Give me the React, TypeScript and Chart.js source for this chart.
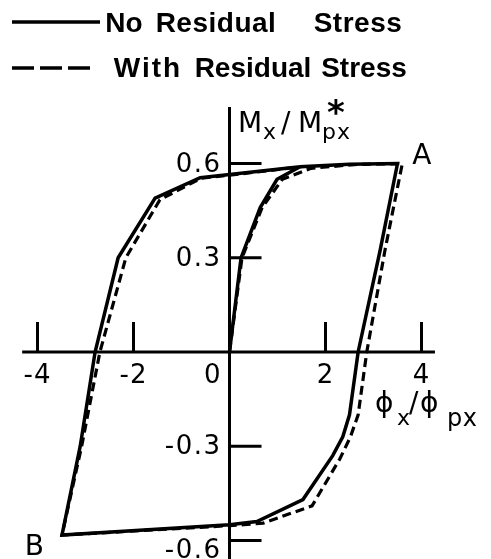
import React, { useEffect, useRef } from "react";
import { Chart, registerables } from "chart.js";

Chart.register(...registerables);

// Axis ticks
const xTicks = [-4, -2, 0, 2, 4];
const yTicks = [0.6, 0.3, -0.3, -0.6];
const xTickLabels = ["-4", "-2", "0", "2", "4"];
const yTickLabels = ["0.6", "0.3", "-0.3", "-0.6"];

// Moment–curvature path without residual stress:
// initial loading to A, unloading/reverse loading to B, reloading back to the top.
const solidPhi = [0, 0.24, 0.64, 0.99, 1.47, 2.5, 3.5, 3.14, 2.68, 2.5, 2.36, 2.15, 1.53, 0.57, 0, -3.49, -3.11, -2.8, -2.32, -1.55, -0.61, 0, 1.47];
const solidM = [0, 0.3, 0.46, 0.55, 0.59, 0.598, 0.6, 0.325, 0, -0.2, -0.27, -0.33, -0.47, -0.54, -0.55, -0.583, -0.3, 0, 0.3, 0.49, 0.555, 0.565, 0.59];

// Same path with residual stress
const dashedPhi = [0, 0.26, 0.68, 1.1, 1.7, 2.6, 3.6, 3.24, 2.86, 2.68, 2.52, 2.3, 1.72, 0.7, 0.3, 0, -3.49, -3.08, -2.7, -2.16, -1.45, -0.6, 0, 1.5];
const dashedM = [0, 0.3, 0.46, 0.55, 0.585, 0.597, 0.6, 0.325, 0, -0.2, -0.27, -0.34, -0.49, -0.545, -0.55, -0.553, -0.583, -0.3, 0, 0.3, 0.485, 0.553, 0.563, 0.59];

// Turning points
const pointA = { x: 3.6, y: 0.6 };
const pointB = { x: -3.49, y: -0.583 };

const INK = "#000";
const NUM_FONT = '26px "DejaVu Sans"';
const TITLE_FONT = '28px "DejaVu Sans"';
const SUB_FONT = '22px "DejaVu Sans"';
const LEGEND_FONT = 'bold 28px "Liberation Sans"';

function text(
  ctx: CanvasRenderingContext2D,
  s: string,
  x: number,
  y: number,
  font: string,
  align: CanvasTextAlign = "left",
  spacing = "0px"
) {
  ctx.font = font;
  ctx.textAlign = align;
  ctx.textBaseline = "alphabetic";
  (ctx as any).letterSpacing = spacing;
  ctx.fillText(s, x, y);
  (ctx as any).letterSpacing = "0px";
}

const figurePlugin = {
  id: "figureDecor",
  beforeDatasetsDraw(chart: any) {
    const ctx: CanvasRenderingContext2D = chart.ctx;
    const xs = chart.scales.x;
    const ys = chart.scales.y;
    const x0 = xs.getPixelForValue(0);
    const y0 = ys.getPixelForValue(0);
    ctx.save();
    ctx.strokeStyle = INK;
    ctx.lineWidth = 3;
    ctx.lineCap = "butt";
    ctx.beginPath();
    // axes through the origin
    ctx.moveTo(xs.getPixelForValue(-4.32), y0);
    ctx.lineTo(xs.getPixelForValue(4.28), y0);
    ctx.moveTo(x0, ys.getPixelForValue(0.78));
    ctx.lineTo(x0, ys.getPixelForValue(-0.7));
    // tick marks: upward on the phi axis, rightward on the M axis
    xTicks.forEach((v) => {
      if (v === 0) return;
      const px = xs.getPixelForValue(v);
      ctx.moveTo(px, y0);
      ctx.lineTo(px, y0 - 30);
    });
    yTicks.forEach((v) => {
      const py = ys.getPixelForValue(v);
      ctx.moveTo(x0, py);
      ctx.lineTo(x0 + 32, py);
    });
    ctx.stroke();
    ctx.restore();
  },
  afterDatasetsDraw(chart: any) {
    const ctx: CanvasRenderingContext2D = chart.ctx;
    const xs = chart.scales.x;
    const ys = chart.scales.y;
    const x0 = xs.getPixelForValue(0);
    const y0 = ys.getPixelForValue(0);
    ctx.save();
    ctx.fillStyle = INK;

    // phi tick labels
    xTicks.forEach((v, i) => {
      const px = xs.getPixelForValue(v);
      if (v === 0) text(ctx, xTickLabels[i], x0 - 8, y0 + 31, NUM_FONT, "right", "1px");
      else text(ctx, xTickLabels[i], px, y0 + 31, NUM_FONT, "center", "1px");
    });
    // moment tick labels
    yTicks.forEach((v, i) => {
      const py = ys.getPixelForValue(v);
      const base = v === -0.6 ? py + 18 : py + 8;
      text(ctx, yTickLabels[i], x0 - 8, base, NUM_FONT, "right", "1.5px");
    });

    // M_x / M_px* title
    text(ctx, "M", 238, 132, TITLE_FONT);
    text(ctx, "x", 263, 139, SUB_FONT);
    text(ctx, "/", 281, 132, TITLE_FONT);
    text(ctx, "M", 298, 132, TITLE_FONT);
    text(ctx, "px", 322, 139, SUB_FONT, "left", "1px");
    text(ctx, "*", 336, 124, 'bold 34px "DejaVu Sans"', "center");

    // phi_x / phi_px title
    text(ctx, "\u03D5", 375, 412, TITLE_FONT);
    text(ctx, "x", 397, 425, SUB_FONT);
    text(ctx, "/", 409, 412, TITLE_FONT);
    text(ctx, "\u03D5", 420, 412, TITLE_FONT);
    text(ctx, "px", 447, 426, '24px "DejaVu Sans"', "left", "0.5px");

    // turning point labels
    const ax = xs.getPixelForValue(pointA.x);
    const ay = ys.getPixelForValue(pointA.y);
    text(ctx, "A", ax + 10, ay, TITLE_FONT);
    const bx = xs.getPixelForValue(pointB.x);
    const by = ys.getPixelForValue(pointB.y);
    text(ctx, "B", bx - 18, by + 20, TITLE_FONT, "right");

    // legend
    ctx.strokeStyle = INK;
    ctx.lineWidth = 3.5;
    ctx.beginPath();
    ctx.moveTo(12, 22);
    ctx.lineTo(100, 22);
    ctx.stroke();
    ctx.setLineDash([22, 6]);
    ctx.beginPath();
    ctx.moveTo(12, 68);
    ctx.lineTo(94, 68);
    ctx.stroke();
    ctx.setLineDash([]);
    text(ctx, "No", 124, 32, LEGEND_FONT, "center");
    text(ctx, "Residual", 216, 32, LEGEND_FONT, "center", "0.5px");
    text(ctx, "Stress", 358, 32, LEGEND_FONT, "center", "0.5px");
    text(ctx, "With", 148, 77, LEGEND_FONT, "center", "2px");
    text(ctx, "Residual", 253, 77, LEGEND_FONT, "center");
    text(ctx, "Stress", 364, 77, LEGEND_FONT, "center");
    ctx.restore();
  },
};

export default function App() {
  const ref = useRef<HTMLCanvasElement>(null);
  useEffect(() => {
    document.body.style.margin = "0";
    const canvas = ref.current!;
    const toPoints = (xs: number[], ys: number[]) => xs.map((x, i) => ({ x, y: ys[i] }));
    const chart = new Chart(canvas, {
      type: "scatter",
      data: {
        datasets: [
          {
            label: "With Residual Stress",
            data: toPoints(dashedPhi, dashedM),
            showLine: true,
            borderColor: INK,
            borderWidth: 3.2,
            borderDash: [9, 5],
            pointRadius: 0,
            fill: false,
            tension: 0,
          },
          {
            label: "No Residual Stress",
            data: toPoints(solidPhi, solidM),
            showLine: true,
            borderColor: INK,
            borderWidth: 3.5,
            pointRadius: 0,
            fill: false,
            tension: 0,
          },
        ],
      },
      options: {
        responsive: false,
        animation: false,
        devicePixelRatio: 1,
        events: [],
        layout: { padding: { left: 13.5, right: 45.5, top: 147.9, bottom: 2.9 } },
        scales: {
          x: { type: "linear", min: -4.5, max: 4.5, display: false },
          y: { type: "linear", min: -0.65, max: 0.65, display: false },
        },
        plugins: { legend: { display: false }, tooltip: { enabled: false } },
      },
      plugins: [figurePlugin],
    });
    return () => chart.destroy();
  }, []);
  return <canvas ref={ref} width={491} height={559} style={{ display: "block" }} />;
}
